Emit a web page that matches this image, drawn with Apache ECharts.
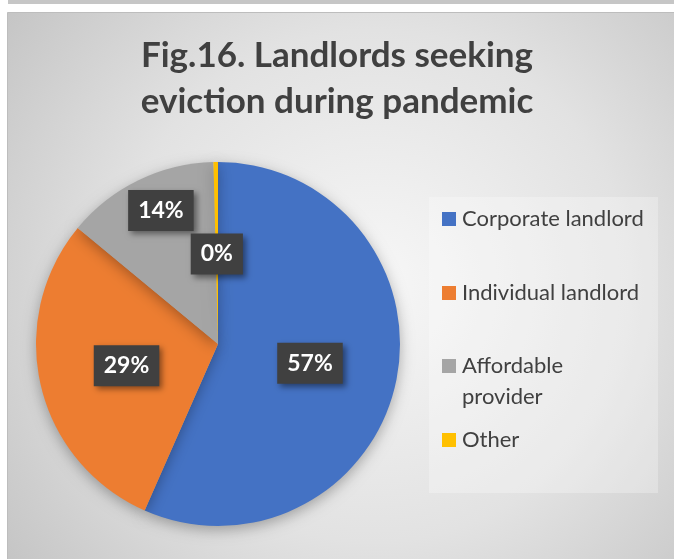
<!DOCTYPE html>
<html>
<head>
<meta charset="utf-8">
<style>
  html, body { margin: 0; padding: 0; background: #ffffff; }
  #chart { width: 674px; height: 559px; }
</style>
<script src="https://cdn.jsdelivr.net/npm/echarts@6/dist/echarts.min.js"></script>
</head>
<body>
<div id="chart"></div>
<script>
// ---- data ----
const categories = ['Corporate landlord', 'Individual landlord', 'Affordable provider', 'Other'];
const shares = [56.6, 29.4, 13.6, 0.4];
const colors = ['#4472C4', '#ED7D31', '#A5A5A5', '#FFC000'];
const titleText = 'Fig.16. Landlords seeking\neviction during pandemic';

const FONT = 'Lato';
const chart = echarts.init(document.getElementById('chart'), null, { renderer: 'canvas' });

const LH = 31;
const legendCenters = [219, 293, 366, 440];
const legends = categories.map((name, i) => ({
  orient: 'vertical',
  left: 442,
  top: name === 'Affordable provider' ? legendCenters[i] - 1.5 * LH : legendCenters[i] - LH / 2,
  padding: 0,
  icon: 'rect',
  itemWidth: 14,
  itemHeight: 14,
  itemGap: 0,
  itemStyle: { shadowBlur: 0, borderWidth: 0 },
  data: [name],
  formatter: n => (n === 'Affordable provider' ? ' \nAffordable\nprovider' : n),
  textStyle: { fontFamily: FONT, fontSize: 22, color: '#404040', lineHeight: LH, padding: [0, 0, 0, 1] }
}));

const option = {
  animation: false,
  graphic: [
    { type: 'rect', z: -10, shape: { x: 8, y: 0, width: 666, height: 4 }, style: { fill: '#c6c6c6' } },
    { type: 'rect', z: -10, shape: { x: 7.5, y: 12.5, width: 667, height: 547 },
      style: { stroke: '#bdbdbd', lineWidth: 1,
        fill: { type: 'radial', x: 0.55, y: 0.5, r: 0.85,
          colorStops: [{ offset: 0, color: '#f7f7f7' }, { offset: 0.55, color: '#e2e2e2' }, { offset: 1, color: '#c4c4c4' }] } } },
    { type: 'rect', z: -9, shape: { x: 429, y: 197, width: 229, height: 296 },
      style: { fill: 'rgba(255,255,255,0.28)' } }
  ],
  title: {
    text: titleText,
    left: 'center',
    top: 28,
    textStyle: { fontFamily: FONT, fontWeight: 'bold', fontSize: 35, lineHeight: 46, color: '#404040' }
  },
  legend: legends,
  series: [{
    type: 'pie',
    center: [218, 344],
    radius: 182,
    startAngle: 90,
    clockwise: true,
    percentPrecision: 0,
    data: categories.map((name, i) => ({ name, value: shares[i], itemStyle: { color: colors[i] } })),
    itemStyle: { shadowBlur: 14, shadowColor: 'rgba(0,0,0,0.3)', shadowOffsetY: 4 },
    label: {
      show: true,
      position: 'inside',
      formatter: '{d}%',
      fontFamily: FONT,
      fontWeight: 'bold',
      fontSize: 23,
      lineHeight: 26,
      color: '#ffffff',
      backgroundColor: '#404040',
      padding: [8, 10, 7, 10],
      shadowBlur: 6,
      shadowOffsetX: 3,
      shadowOffsetY: 3,
      shadowColor: 'rgba(0,0,0,0.45)'
    },
    labelLayout: function (p) {
      if (p.dataIndex === 2) return { dx: -16, dy: -49 };
      if (p.dataIndex === 3) return { dy: 4 };
      return {};
    },
    labelLine: { show: false },
    emphasis: { disabled: true }
  }]
};
chart.setOption(option);
</script>
</body>
</html>
